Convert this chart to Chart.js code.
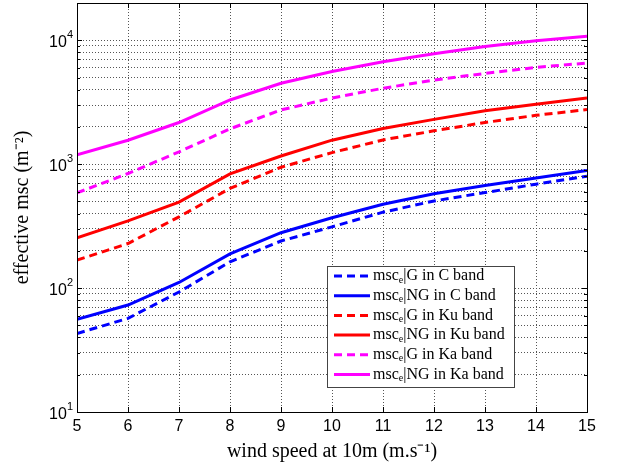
<!DOCTYPE html>
<html>
<head>
<meta charset="utf-8">
<script src="https://cdn.jsdelivr.net/npm/chart.js@4.4.1/dist/chart.umd.min.js"></script>
<style>
  html, body { margin: 0; padding: 0; background: #fff; }
  #wrap { width: 617px; height: 466px; }
</style>
</head>
<body>
<div id="wrap"><canvas id="chart"></canvas></div>
<script>
// ---------- Data ----------
const windSpeed = [5, 6, 7, 8, 9, 10, 11, 12, 13, 14, 15];

const gC   = [43, 57, 93, 163, 240, 312, 410, 505, 590, 690, 800];
const ngC  = [56, 73, 111, 189, 280, 370, 475, 578, 672, 775, 890];
const gKu  = [168, 229, 376, 637, 945, 1240, 1570, 1860, 2170, 2480, 2760];
const ngKu = [255, 349, 495, 835, 1165, 1563, 1943, 2300, 2700, 3050, 3420];
const gKa  = [587, 841, 1257, 1930, 2740, 3420, 4100, 4780, 5400, 6050, 6550];
const ngKa = [1190, 1560, 2170, 3300, 4500, 5600, 6700, 7800, 8900, 9900, 10800];

// y grid: 1..9 in every decade, then the top of the axis
const decades = [10, 100, 1000];
const yTicks = decades.flatMap(d => [1, 2, 3, 4, 5, 6, 7, 8, 9].map(m => m * d)).concat([10000, 20000]);
const yExponents = { 10: '1', 100: '2', 1000: '3', 10000: '4' };   // labels 10^n

const BLUE = '#0000ff', RED = '#ff0000', MAGENTA = '#ff00ff';
const DASH = [8, 5];
const SANS = '"Liberation Sans", Arial, sans-serif';
const SERIF = '"Liberation Serif", "Times New Roman", serif';

const pts = arr => arr.map((v, i) => ({ x: windSpeed[i], y: v }));
const series = (label, data, color, dashed) => ({
  label, data: pts(data), borderColor: color, backgroundColor: color,
  borderWidth: 3, borderDash: dashed ? DASH : [], pointRadius: 0, tension: 0, fill: false,
});

// ---------- Frame, inward ticks and 10^n labels (MATLAB look) ----------
const framePlugin = {
  id: 'frame',
  afterDraw(chart) {
    const { ctx, chartArea: a, scales } = chart;
    ctx.save();
    ctx.setLineDash([]);
    ctx.strokeStyle = '#000';
    ctx.lineWidth = 1;
    ctx.beginPath();
    scales.x.ticks.forEach(t => {
      const px = Math.round(scales.x.getPixelForValue(t.value)) + 0.5;
      ctx.moveTo(px, a.bottom); ctx.lineTo(px, a.bottom - 5);
      ctx.moveTo(px, a.top); ctx.lineTo(px, a.top + 5);
    });
    scales.y.ticks.forEach(t => {
      const py = Math.round(scales.y.getPixelForValue(t.value)) + 0.5;
      const len = yExponents[t.value] ? 5 : 3;
      ctx.moveTo(a.left, py); ctx.lineTo(a.left + len, py);
      ctx.moveTo(a.right, py); ctx.lineTo(a.right - len, py);
    });
    ctx.stroke();
    ctx.strokeRect(Math.round(a.left) + 0.5, Math.round(a.top) + 0.5,
                   Math.round(a.right - a.left), Math.round(a.bottom - a.top));

    // y tick labels as 10 with a raised exponent
    ctx.fillStyle = '#000';
    ctx.textBaseline = 'alphabetic';
    ctx.textAlign = 'left';
    scales.y.ticks.forEach(t => {
      const exp = yExponents[t.value];
      if (!exp) return;
      const py = scales.y.getPixelForValue(t.value);
      ctx.font = '11px ' + SANS;
      const ew = ctx.measureText(exp).width;
      ctx.font = '16px ' + SANS;
      const bw = ctx.measureText('10').width;
      const xEnd = a.left - 4;
      ctx.fillText('10', xEnd - ew - bw, py + 6.5);
      ctx.font = '11px ' + SANS;
      ctx.fillText(exp, xEnd - ew, py - 2.5);
    });
    ctx.restore();
  }
};

// ---------- Legend box inside the axes, bottom right ----------
const legendPlugin = {
  id: 'boxLegend',
  afterDraw(chart) {
    const { ctx, chartArea: a } = chart;
    const sets = chart.data.datasets;
    const right = a.right - 73, bottom = a.bottom - 25;
    const w = 187, rowH = 19.7, h = 121;
    const left = right - w, top = bottom - h;
    ctx.save();
    ctx.fillStyle = '#fff';
    ctx.fillRect(left, top, w, h);
    ctx.strokeStyle = '#444';
    ctx.lineWidth = 1;
    ctx.setLineDash([]);
    ctx.strokeRect(Math.round(left) + 0.5, Math.round(top) + 0.5, w, h);
    sets.forEach((ds, i) => {
      const cy = top + 10 + rowH * i;
      ctx.strokeStyle = ds.borderColor;
      ctx.lineWidth = 3;
      ctx.setLineDash(ds.borderDash);
      ctx.beginPath();
      ctx.moveTo(left + 7, cy); ctx.lineTo(left + 43, cy);
      ctx.stroke();
      // "msc" + subscript e + rest
      const [head, tail] = ds.label.split('ₑ');
      let x = left + 46;
      ctx.fillStyle = '#000';
      ctx.textBaseline = 'middle';
      ctx.font = '16px ' + SERIF;
      ctx.fillText(head, x, cy);
      x += ctx.measureText(head).width;
      ctx.font = '10px ' + SERIF;
      ctx.fillText('e', x, cy + 4);
      x += ctx.measureText('e').width;
      ctx.font = '16px ' + SERIF;
      ctx.fillText(tail, x, cy);
    });
    ctx.restore();
  }
};

const gridOpts = { color: '#555', lineWidth: 1, drawTicks: false, borderDash: [1, 2] };
const borderOpts = { display: false, dash: [1, 2] };

new Chart(document.getElementById('chart'), {
  type: 'line',
  data: {
    datasets: [
      series('mscₑ|G in C band',   gC,   BLUE,    true),
      series('mscₑ|NG in C band',  ngC,  BLUE,    false),
      series('mscₑ|G in Ku band',  gKu,  RED,     true),
      series('mscₑ|NG in Ku band', ngKu, RED,     false),
      series('mscₑ|G in Ka band',  gKa,  MAGENTA, true),
      series('mscₑ|NG in Ka band', ngKa, MAGENTA, false),
    ],
  },
  options: {
    responsive: true,
    maintainAspectRatio: false,
    animation: false,
    layout: { padding: { top: 3, right: 30, left: 0, bottom: 0 } },
    plugins: { legend: { display: false }, tooltip: { enabled: false } },
    scales: {
      x: {
        type: 'linear', min: 5, max: 15,
        ticks: { stepSize: 1, color: '#000', padding: 5, font: { family: SANS, size: 16 } },
        grid: gridOpts, border: borderOpts,
        title: { display: true, text: 'wind speed at 10m (m.s⁻¹)', color: '#000',
                 font: { family: SERIF, size: 20 }, padding: { bottom: 2 } },
        afterFit: s => { s.height = 54; s.paddingLeft = 0; s.paddingRight = 0; },
      },
      y: {
        type: 'logarithmic', min: 10, max: 20000,
        afterBuildTicks: s => { s.ticks = yTicks.map(v => ({ value: v })); },
        ticks: { autoSkip: false, color: '#000', padding: 4,
                 font: { family: SANS, size: 16 },
                 callback: () => '' },
        grid: gridOpts, border: borderOpts,
        title: { display: true, text: 'effective msc (m⁻²)', color: '#000',
                 font: { family: SERIF, size: 20 }, padding: { top: 11 } },
        afterFit: s => { s.width = 77; s.paddingTop = 0; s.paddingBottom = 0; },
      },
    },
  },
  plugins: [framePlugin, legendPlugin],
});
</script>
</body>
</html>
